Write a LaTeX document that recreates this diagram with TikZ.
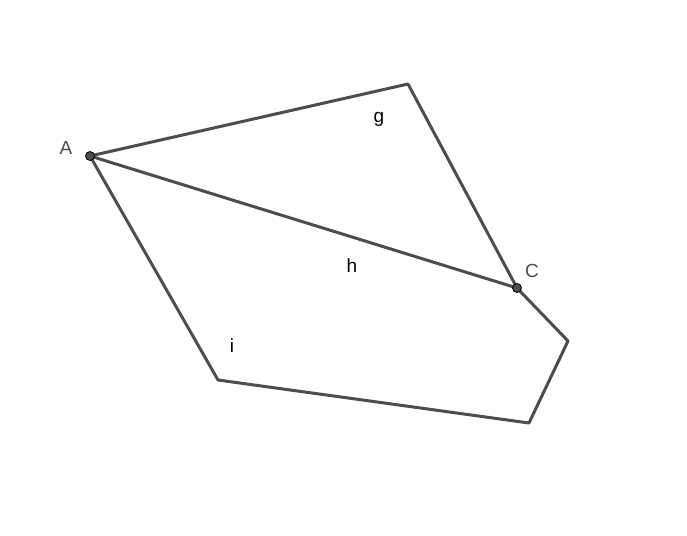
\documentclass[tikz,border=0pt]{standalone}
\usepackage{fontspec}
\setmainfont{Liberation Sans}
\definecolor{seg}{RGB}{77,77,77}
\definecolor{ptfill}{RGB}{77,77,77}
\begin{document}
\begin{tikzpicture}[x=1pt,y=-1pt,
  segline/.style={draw=seg,line width=3pt,line cap=round,line join=round},
  ptstyle/.style={circle,fill=ptfill,draw=black,line width=0.8pt,inner sep=0pt,minimum size=9pt},
  lbl/.style={font=\fontsize{19}{19}\selectfont,inner sep=0pt},
  ptlbl/.style={lbl,text=seg}]
\useasboundingbox (0,0) rectangle (687,535);
\coordinate (T) at (408,84);
\coordinate (R) at (568,341);
\coordinate (BR) at (529,423);
\coordinate (BL) at (218,380);
\coordinate (Ac) at (90,156);
\coordinate (Cc) at (517,288);
\draw[segline] (Ac) -- (T) -- (Cc);
\draw[segline] (Ac) -- (Cc);
\draw[segline] (Cc) -- (R) -- (BR) -- (BL) -- (Ac);
\node[ptstyle] (A) at (Ac) {};
\node[ptstyle] (C) at (Cc) {};
\node[ptlbl] (lA) at (66,148) {A};
\node[ptlbl] (lC) at (532,271) {C};
\node[lbl] (lg) at (379,119) {g};
\node[lbl] (lh) at (352,266) {h};
\node[lbl] (li) at (232,346) {i};
\end{tikzpicture}
\end{document}
